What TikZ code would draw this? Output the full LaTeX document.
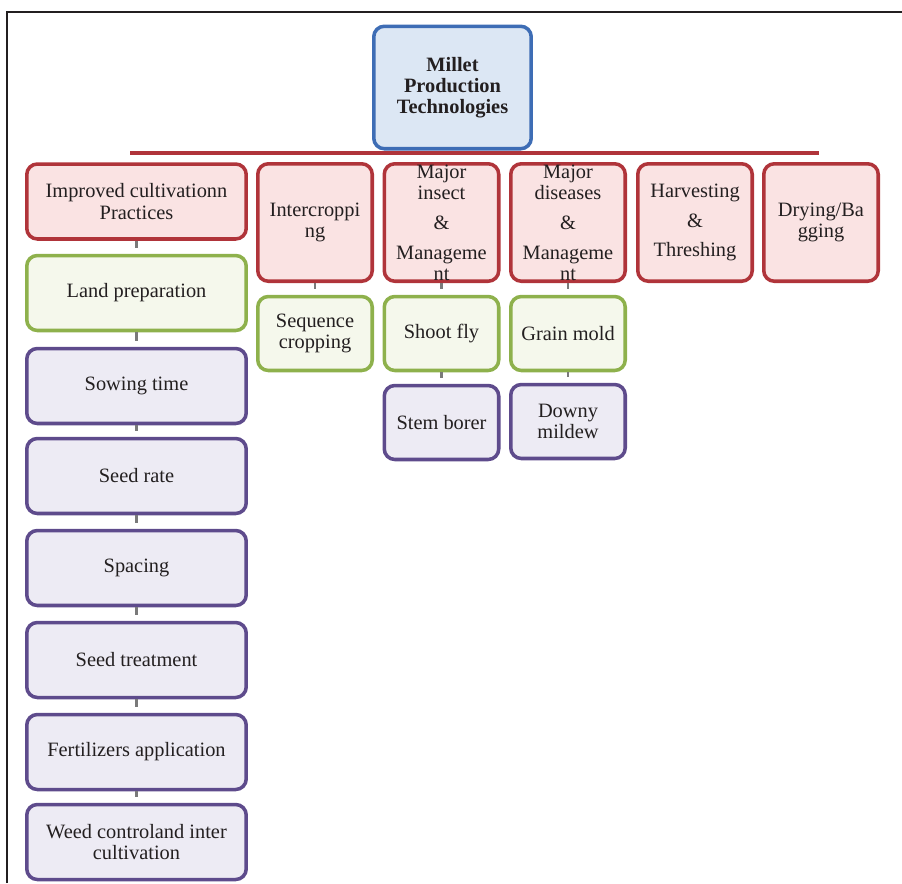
\documentclass[tikz,border=0pt]{standalone}
\usepackage{fontspec}
\setmainfont{Liberation Serif}
\usetikzlibrary{positioning}
\definecolor{ink}{HTML}{231F20}
\definecolor{rootline}{HTML}{3E6DB5}
\definecolor{rootbg}{HTML}{DCE7F4}
\definecolor{redline}{HTML}{B0343A}
\definecolor{redbg}{HTML}{FAE3E3}
\definecolor{grnline}{HTML}{8EB14C}
\definecolor{grnbg}{HTML}{F5F8EC}
\definecolor{purline}{HTML}{5E4B8C}
\definecolor{purbg}{HTML}{EDEBF4}
\definecolor{tickgray}{HTML}{7A7A7A}
\tikzset{
  cardbase/.style={line width=2pt,rounded corners=6pt,align=center,text=ink,
                   inner sep=2pt,font=\fontsize{11.6}{12}\selectfont},
  rootcard/.style={cardbase,draw=rootline,fill=rootbg,
                   font=\fontsize{11.6}{12}\selectfont\bfseries,
                   minimum width=3.15cm,minimum height=2.45cm},
  redcard/.style={cardbase,draw=redline,fill=redbg},
  grncard/.style={cardbase,draw=grnline,fill=grnbg},
  purcard/.style={cardbase,draw=purline,fill=purbg},
  widecard/.style={minimum width=4.39cm,minimum height=1.5cm},
  tallcard/.style={minimum width=2.29cm,minimum height=2.35cm,inner sep=0pt},
  subcard/.style={minimum width=2.29cm,minimum height=1.48cm},
  linktick/.style={line width=1.3pt,draw=tickgray,shorten >=3pt},
  busline/.style={line width=2pt,draw=redline},
  frameline/.style={line width=0.8pt,draw=ink}
}
\begin{document}
\begin{tikzpicture}[x=0.02cm,y=-0.02cm]
    \path[use as bounding box] (0,0) rectangle (902,883);
    \draw[frameline] (7,883) -- (7,12) -- (902,12);

    \coordinate (busL) at (130,153);
    \coordinate (busR) at (819,153);
    \draw[busline] (busL) -- (busR);

    \node[rootcard] (root) at (452.5,87.5)
      {Millet\\Production\\Technologies};

    \node[redcard,widecard] (improved) at (136.5,201.5)
      {Improved cultivationn\\Practices};
    \node[redcard,tallcard] (intercrop) at (315,222.5)
      {Intercroppi\\ng};
    \node[redcard,tallcard] (insect) at (441.5,222.5)
      {Major\\insect\\[5pt]\&\\[5pt]Manageme\\nt};
    \node[redcard,tallcard] (disease) at (568,222.5)
      {Major\\diseases\\[5pt]\&\\[5pt]Manageme\\nt};
    \node[redcard,tallcard] (harvest) at (695,222.5)
      {Harvesting\\[5pt]\&\\[5pt]Threshing};
    \node[redcard,tallcard] (drying) at (821,222.5)
      {Drying/Ba\\gging};

    \node[grncard,widecard] (landprep) at (136.5,293) {Land preparation};
    \node[purcard,widecard] (sowing) at (136.5,386) {Sowing time};
    \node[purcard,widecard] (seedrate) at (136.5,476) {Seed rate};
    \node[purcard,widecard] (spacing) at (136.5,568) {Spacing};
    \node[purcard,widecard] (seedtreat) at (136.5,660) {Seed treatment};
    \node[purcard,widecard] (fertilizer) at (136.5,752) {Fertilizers application};
    \node[purcard,widecard] (weed) at (136.5,842)
      {Weed controland inter\\cultivation};

    \node[grncard,subcard] (sequence) at (315,333.5) {Sequence\\cropping};
    \node[grncard,subcard] (shootfly) at (441.5,333.5) {Shoot fly};
    \node[grncard,subcard] (grainmold) at (568,333.5) {Grain mold};
    \node[purcard,subcard] (stemborer) at (441.5,422.5) {Stem borer};
    \node[purcard,subcard] (downy) at (568,421.5) {Downy\\mildew};

    \draw[linktick] (improved) -- (landprep);
    \draw[linktick] (landprep) -- (sowing);
    \draw[linktick] (sowing) -- (seedrate);
    \draw[linktick] (seedrate) -- (spacing);
    \draw[linktick] (spacing) -- (seedtreat);
    \draw[linktick] (seedtreat) -- (fertilizer);
    \draw[linktick] (fertilizer) -- (weed);
    \draw[linktick] (intercrop) -- (sequence);
    \draw[linktick] (insect) -- (shootfly);
    \draw[linktick] (shootfly) -- (stemborer);
    \draw[linktick] (disease) -- (grainmold);
    \draw[linktick] (grainmold) -- (downy);
  \end{tikzpicture}
\end{document}
